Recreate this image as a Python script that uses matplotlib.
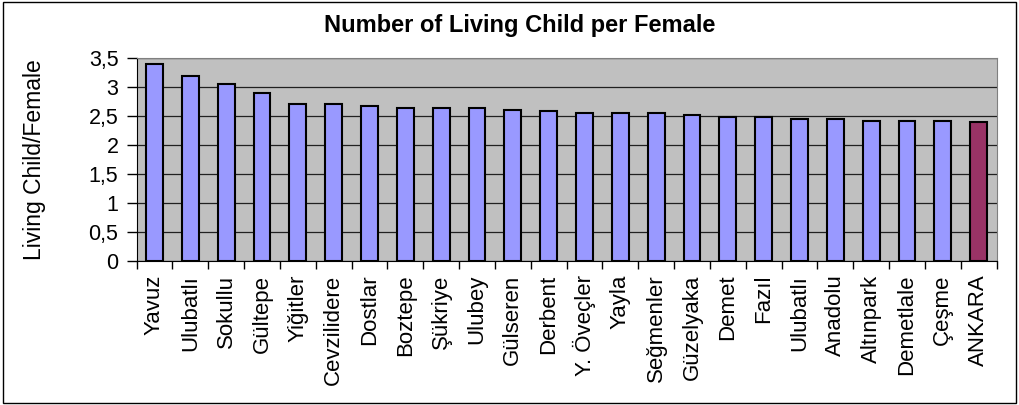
import numpy as np
import matplotlib.pyplot as plt
from matplotlib.ticker import FuncFormatter

# Data
districts = ["Yavuz", "Ulubatlı", "Sokullu", "Gültepe", "Yiğitler", "Cevzilidere",
             "Dostlar", "Boztepe", "Şükriye", "Ulubey", "Gülseren", "Derbent",
             "Y. Öveçler", "Yayla", "Seğmenler", "Güzelyaka", "Demet", "Fazıl",
             "Ulubatlı", "Anadolu", "Altınpark", "Demetlale", "Çeşme", "ANKARA"]
children = [3.40, 3.18, 3.05, 2.90, 2.71, 2.71, 2.67, 2.64, 2.64, 2.64, 2.61, 2.58,
            2.55, 2.55, 2.55, 2.51, 2.48, 2.48, 2.45, 2.45, 2.42, 2.42, 2.42, 2.39]
y_ticks = [0, 0.5, 1, 1.5, 2, 2.5, 3, 3.5]

plt.rcParams["font.family"] = ["Liberation Sans", "DejaVu Sans"]

fig = plt.figure(figsize=(10.19, 4.05), dpi=100)
ax = fig.add_axes([0.134, 0.356, 0.844, 0.501])

x = np.arange(len(districts))
colors = ["#9999FF"] * (len(districts) - 1) + ["#993366"]
ax.bar(x, children, width=0.47, color=colors, edgecolor="black", linewidth=1.5, zorder=3)

ax.set_facecolor("#C0C0C0")
ax.set_ylim(0, 3.5)
ax.set_xlim(-0.5, len(districts) - 0.5)
ax.set_yticks(y_ticks)
ax.yaxis.set_major_formatter(FuncFormatter(lambda v, p: f"{v:g}".replace(".", ",")))
ax.grid(axis="y", color="#202020", linewidth=0.9, zorder=1)

# ticks between categories, labels at the centres
ax.set_xticks(np.arange(len(districts) + 1) - 0.5)
ax.set_xticklabels([])
ax.set_xticks(x, minor=True)
ax.set_xticklabels(districts, minor=True, rotation=90, fontsize=16)
ax.tick_params(axis="x", which="minor", length=0, pad=10)
ax.tick_params(axis="x", which="major", length=6, width=1, direction="out")
ax.tick_params(axis="y", length=7, width=1, direction="out", labelsize=15.5, pad=6)

ax.spines["left"].set_color("black")
ax.spines["bottom"].set_color("black")
ax.spines["top"].set_color("#808080")
ax.spines["right"].set_color("#808080")

fig.text(35 / 1019, 0.606, "Living Child/Female", rotation=90, ha="center", va="center",
         fontsize=16.5)
fig.text(0.51, 0.938, "Number of Living Child per Female", ha="center", va="center",
         fontsize=17, fontweight="bold")

# outer chart border
fig.patches.append(plt.Rectangle((0.003, 0.004), 0.994, 0.992, transform=fig.transFigure,
                                 fill=False, edgecolor="black", linewidth=1))

fig.savefig("out.png", dpi=100)
